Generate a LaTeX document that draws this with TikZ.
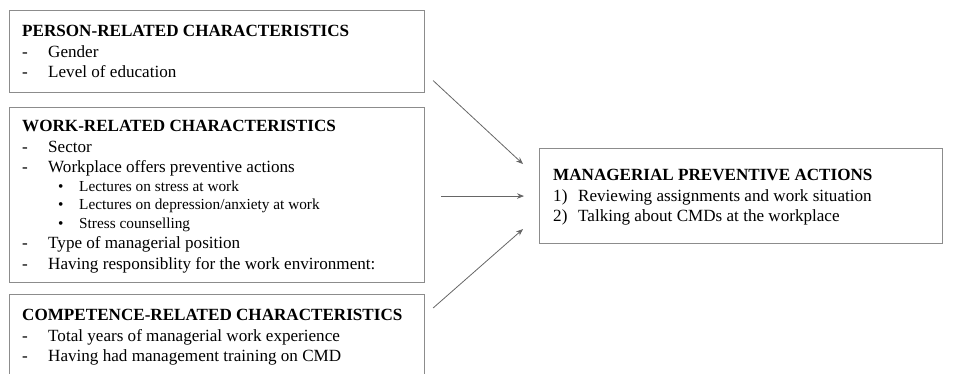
\documentclass[tikz,border=0pt]{standalone}
\usepackage{fontspec}
\setmainfont{Liberation Serif}
\usetikzlibrary{arrows.meta,calc}

\newcommand{\dashitem}[1]{\makebox[26pt][l]{-}#1}
\newcommand{\bulitem}[1]{\hspace*{36pt}{\fontsize{15.3}{17}\selectfont\makebox[21pt][l]{\textbullet}#1}}

\begin{document}
\begin{tikzpicture}[x=1pt,y=-1pt,
  box/.style={draw=black!45,line width=1.1pt,anchor=north west,inner sep=0pt},
  txt/.style={anchor=north west,inner sep=0pt,align=left,font=\fontsize{17.1}{20.5}\selectfont},
  conn/.style={draw=black!60,line width=0.8pt,-{Stealth[length=7pt,width=5.5pt]}}]
\useasboundingbox (0,0) rectangle (960,373);

\node[box,minimum width=415pt,minimum height=82pt] (person) at (9,10) {};
\node[box,minimum width=415pt,minimum height=175pt] (work) at (9,107) {};
\node[box,minimum width=415pt,minimum height=90pt] (comp) at (9,294) {};
\node[box,minimum width=403pt,minimum height=95pt] (actions) at (539,148) {};

\node[txt] (persontxt) at (22,25) {\textbf{PERSON-RELATED CHARACTERISTICS}\\
  \dashitem{Gender}\\
  \dashitem{Level of education}};
\node[txt] (worktxt) at (22,120) {\textbf{WORK-RELATED CHARACTERISTICS}\\
  \dashitem{Sector}\\
  \dashitem{Workplace offers preventive actions}\\[-2pt]
  \bulitem{Lectures on stress at work}\\[-2pt]
  \bulitem{Lectures on depression/anxiety at work}\\[-2pt]
  \bulitem{Stress counselling}\\
  \dashitem{Type of managerial position}\\
  \dashitem{Having responsiblity for the work environment:}};
\node[txt] (comptxt) at (22,309) {\textbf{COMPETENCE-RELATED CHARACTERISTICS}\\
  \dashitem{Total years of managerial work experience}\\
  \dashitem{Having had management training on CMD}};
\node[txt] (actionstxt) at (553,169) {\textbf{MANAGERIAL PREVENTIVE ACTIONS}\\
  \makebox[25pt][l]{1)}Reviewing assignments and work situation\\
  \makebox[25pt][l]{2)}Talking about CMDs at the workplace};

\coordinate (a1) at ($(person.east)+(8,29)$);
\coordinate (b1) at ($(actions.west)+(-16,-32)$);
\coordinate (a2) at ($(work.east)+(16,1)$);
\coordinate (b2) at ($(actions.west)+(-15,0)$);
\coordinate (a3) at ($(comp.north east)+(8,14)$);
\coordinate (b3) at ($(actions.west)+(-16,33)$);
\draw[conn] (a1) -- (b1);
\draw[conn] (a2) -- (b2);
\draw[conn] (a3) -- (b3);
\end{tikzpicture}
\end{document}
